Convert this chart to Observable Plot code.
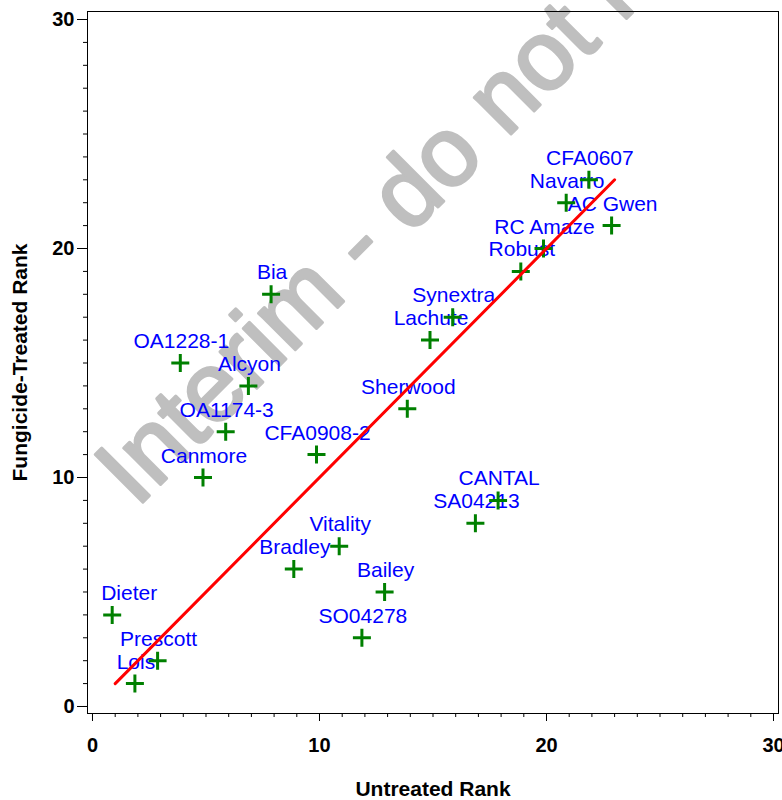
<!DOCTYPE html>
<html>
<head>
<meta charset="utf-8">
<script src="https://cdn.jsdelivr.net/npm/d3@7"></script>
<script src="https://cdn.jsdelivr.net/npm/@observablehq/plot@0.6"></script>
<style>
  html, body { margin: 0; padding: 0; background: #fff; }
  #chart { width: 782px; height: 800px; }
</style>
</head>
<body>
<div id="chart"></div>
<script>
// ---- data ----
const varieties = ["Dieter","Lois","Prescott","OA1228-1","Canmore","OA1174-3","Alcyon","Bia","Bradley","CFA0908-2","Vitality","SO04278","Bailey","Sherwood","Lachute","Synextra","SA04213","CANTAL","Robust","RC Amaze","Navarro","CFA0607","AC Gwen"];
const untreatedRank = [1,2,3,4,5,6,7,8,9,10,11,12,13,14,15,16,17,18,19,20,21,22,23];
const treatedRank   = [4,1,2,15,10,12,14,18,6,11,7,3,5,13,16,17,8,9,19,20,22,23,21];
const refLineX = [1, 23];
const refLineY = [1, 23];
const majorTicks = [0, 10, 20, 30];
const minorTicks = [0,1,2,3,4,5,6,7,8,9,10,11,12,13,14,15,16,17,18,19,20,21,22,23,24,25,26,27,28,29,30];
const xTitle = "Untreated Rank";
const yTitle = "Fungicide-Treated Rank";
const watermark = "Interim - do not reproduce";

// ---- tables built from the arrays ----
const rows = varieties.map((name, i) => ({name, x: untreatedRank[i], y: treatedRank[i]}));
const refLine = refLineX.map((x, i) => ({x, y: refLineY[i]}));

const plusSymbol = {
  draw(ctx, size) {
    const r = Math.sqrt(size / Math.PI);
    ctx.moveTo(-r, 0); ctx.lineTo(r, 0);
    ctx.moveTo(0, -r); ctx.lineTo(0, r);
  }
};

const FONT = "'Liberation Sans', Arial, sans-serif";

const chart = Plot.plot({
  width: 782,
  height: 800,
  marginLeft: 87,
  marginRight: 4,
  marginTop: 11,
  marginBottom: 87,
  style: {fontFamily: FONT, background: "#fff", color: "#000"},
  x: {domain: [-0.22, 30.22]},
  y: {domain: [-0.306, 30.35]},
  marks: [
    // watermark
    Plot.text([watermark], {
      text: d => d, frameAnchor: "top-left", dx: 49, dy: 497,
      rotate: -45, textAnchor: "start", lineAnchor: "bottom",
      fontSize: 98, fill: "#bfbfbf", stroke: "#bfbfbf", strokeWidth: 3,
      fontFamily: FONT
    }),
    // data labels
    Plot.text(rows.filter(d => d.name !== "Dieter"), {
      x: "x", y: "y", text: "name", dx: -2, dy: -15,
      lineAnchor: "bottom", textAnchor: "middle", fill: "#0000ff", fontSize: 21
    }),
    Plot.text(rows.filter(d => d.name === "Dieter"), {
      x: "x", y: "y", text: "name", dx: 14, dy: -15,
      lineAnchor: "bottom", textAnchor: "middle", fill: "#0000ff", fontSize: 21
    }),
    // markers
    Plot.dot(rows, {
      x: "x", y: "y", symbol: plusSymbol, r: 9, dx: -3,
      stroke: "#008000", strokeWidth: 3, fill: "none"
    }),
    // reference line
    Plot.line(refLine, {x: "x", y: "y", stroke: "#ff0000", strokeWidth: 3}),
    // axes: minor ticks
    Plot.axisX({ticks: minorTicks, tickSize: 4, fill: "none", label: null, stroke: "#000"}),
    Plot.axisY({ticks: minorTicks, tickSize: 4, fill: "none", label: null, stroke: "#000"}),
    // axes: major ticks with labels
    Plot.axisX({ticks: majorTicks, tickSize: 8, tickPadding: 16, label: null,
      fontSize: 20, fontWeight: "bold", tickFormat: d => String(d)}),
    Plot.axisY({ticks: majorTicks, tickSize: 10, tickPadding: 3, label: null,
      fontSize: 20, fontWeight: "bold", tickFormat: d => String(d)}),
    // axis titles
    Plot.text([xTitle], {text: d => d, frameAnchor: "bottom", dy: 82, lineAnchor: "bottom",
      textAnchor: "middle", fontSize: 21, fontWeight: "bold", fill: "#000"}),
    Plot.text([yTitle], {text: d => d, frameAnchor: "left", dx: -75, rotate: -90,
      lineAnchor: "top", textAnchor: "middle", fontSize: 21, fontWeight: "bold", fill: "#000"}),
    Plot.frame({stroke: "#000"})
  ]
});

document.getElementById("chart").appendChild(chart);
</script>
</body>
</html>
